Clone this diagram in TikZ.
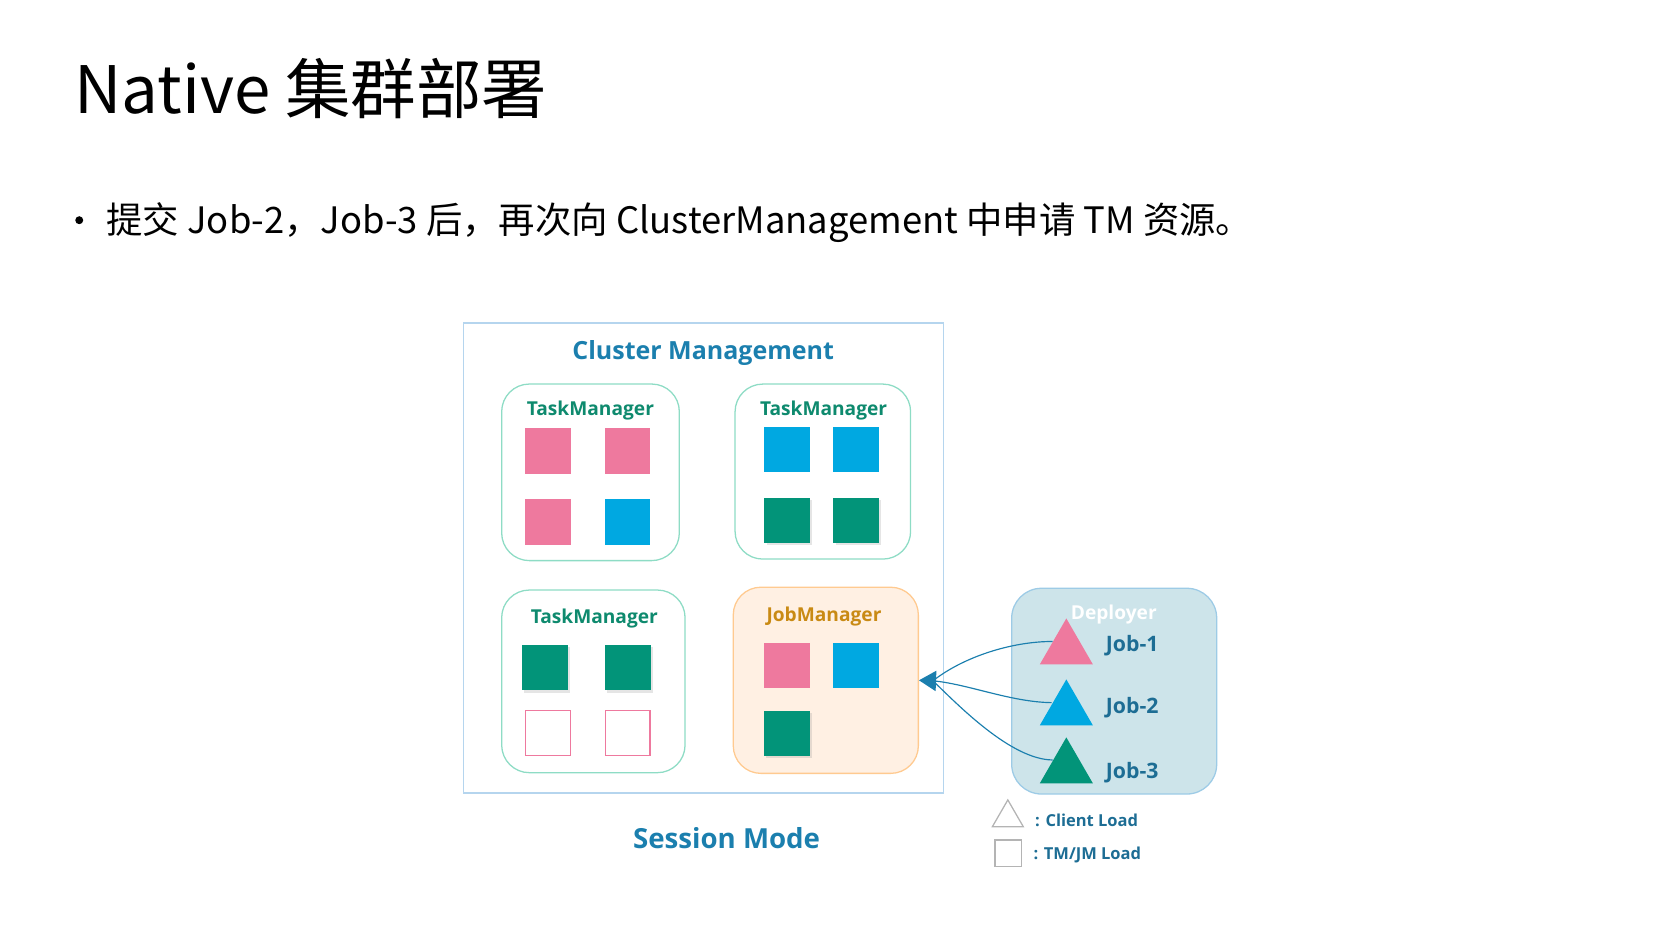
\documentclass[tikz,border=0pt]{standalone}
\usepackage{fontspec}
\setmainfont{Noto Sans CJK SC}
\newfontfamily\diagfont{Open Sans}
\usetikzlibrary{arrows.meta,shapes.geometric,shadows}

\definecolor{cmblue}{HTML}{1B7FAE}
\definecolor{outline}{HTML}{B5D5EE}
\definecolor{tmline}{HTML}{8EDCC5}
\definecolor{tmtext}{HTML}{0E8A6E}
\definecolor{jmfill}{HTML}{FFF0E3}
\definecolor{jmline}{HTML}{FFCA90}
\definecolor{jmtext}{HTML}{C98A14}
\definecolor{depfill}{HTML}{CDE4EA}
\definecolor{depline}{HTML}{9DCBE6}
\definecolor{jobtext}{HTML}{1D6D94}
\definecolor{slotpink}{HTML}{EE799E}
\definecolor{slotblue}{HTML}{00A8E1}
\definecolor{slotgreen}{HTML}{029479}
\definecolor{legend}{HTML}{B4B4B4}

\tikzset{
  mgrbox/.style={draw=tmline, line width=1.2pt, rounded corners=26pt, fill=white},
  slot/.style={minimum size=43pt, inner sep=0pt, outer sep=0pt},
  pinkslot/.style={slot, fill=slotpink},
  blueslot/.style={slot, fill=slotblue},
  greenslot/.style={slot, fill=slotgreen, drop shadow={shadow xshift=2pt, shadow yshift=-2pt, opacity=.2}},
  freeslot/.style={slot, draw=slotpink, line width=1pt, minimum size=42pt, fill=white},
  jobtri/.style={regular polygon, regular polygon sides=3, minimum size=57.7pt, inner sep=0pt},
  mgrlabel/.style={anchor=base, text=tmtext, font=\diagfont\bfseries\fontsize{18}{22}\selectfont},
  joblabel/.style={anchor=base west, text=jobtext, font=\diagfont\bfseries\fontsize{20}{24}\selectfont},
  legendlabel/.style={anchor=base west, text=jobtext, font=\diagfont\bfseries\fontsize{15.5}{19}\selectfont},
  submit/.style={draw=cmblue, line width=1.1pt}
}

\begin{document}
\begin{tikzpicture}[x=1pt, y=-1pt]
  \useasboundingbox (0,0) rectangle (1568,884);
  \node[anchor=base west, inner sep=0pt, font=\fontsize{61.5}{70}\selectfont] (title) at (70,106.5) {Native 集群部署};
  \node[circle, fill=black, inner sep=0pt, minimum size=7.5pt] (dot) at (74.5,207) {};
  \node[anchor=base west, inner sep=0pt, font=\fontsize{34.2}{40}\selectfont] (point) at (100,219.3) {提交 Job-2，Job-3 后，再次向 ClusterManagement 中申请 TM 资源。};

  % cluster frame
  \node[draw=outline, line width=1.2pt, minimum width=451pt, minimum height=442pt] (cluster) at (661.2,524.5) {};
  \node[anchor=base, text=cmblue, font=\diagfont\bfseries\fontsize{23.5}{30}\selectfont] (clustername) at (661,337.5) {Cluster Management};

  \node[mgrbox, minimum width=167pt, minimum height=166pt] (tm1) at (555.1,444) {};
  \node[mgrbox, minimum width=165pt, minimum height=164.5pt] (tm2) at (773.5,443.3) {};
  \node[mgrbox, minimum width=172.4pt, minimum height=171.7pt] (tm3) at (557.8,640.5) {};
  \node[mgrbox, draw=jmline, fill=jmfill, minimum width=174pt, minimum height=175pt] (jm) at (776.3,639.5) {};

  \node[mgrlabel] (tm1name) at (555,391) {TaskManager};
  \node[mgrlabel] (tm2name) at (774.2,391) {TaskManager};
  \node[mgrlabel] (tm3name) at (558.7,586) {TaskManager};
  \node[mgrlabel, text=jmtext] (jmname) at (774.6,584.4) {JobManager};

  % slots
  \node[pinkslot] (tm1a) at (515.2,423.8) {};
  \node[pinkslot] (tm1b) at (589.9,423.8) {};
  \node[pinkslot] (tm1c) at (515.2,490.4) {};
  \node[blueslot] (tm1d) at (589.9,490.4) {};
  \node[blueslot] (tm2a) at (740.1,422.6) {};
  \node[blueslot] (tm2b) at (805,422.6) {};
  \node[greenslot] (tm2c) at (740.1,489.2) {};
  \node[greenslot] (tm2d) at (805,489.2) {};
  \node[greenslot] (tm3a) at (512.5,627.5) {};
  \node[greenslot] (tm3b) at (590,627.5) {};
  \node[freeslot] (tm3c) at (515.2,689.2) {};
  \node[freeslot] (tm3d) at (590,689.2) {};
  \node[pinkslot] (jma) at (740,625.5) {};
  \node[blueslot] (jmb) at (805,625.5) {};
  \node[greenslot] (jmc) at (740,689.4) {};

  \node[anchor=base, text=cmblue, font=\diagfont\bfseries\fontsize{26}{32}\selectfont] (mode) at (683,797.5) {Session Mode};

  % deployer
  \node[draw=depline, fill=depfill, line width=1.2pt, rounded corners=28pt, minimum width=192.7pt, minimum height=193.4pt] (deployer) at (1047.4,649.7) {};
  \node[anchor=base, text=white, font=\diagfont\bfseries\fontsize{18}{22}\selectfont] (depname) at (1047,582) {Deployer};
  \coordinate (j1in) at (989.5,603);
  \coordinate (j2in) at (988.6,660.5);
  \coordinate (j3in) at (989.5,714.4);
  \coordinate (tip) at (877,640);
  \draw[submit] (j1in) .. controls (950,603) and (905,618) .. (tip);
  \draw[submit] (j2in) .. controls (950,660) and (910,643) .. (tip);
  \draw[submit] (j3in) .. controls (950,714) and (900,662) .. (tip);
  \draw[submit, -{Triangle[length=16pt, width=19pt]}] (tip) -- (jm.east);
  \node[jobtri, fill=slotpink] (job1) at (1002.4,610.2) {};
  \node[jobtri, fill=slotblue] (job2) at (1002.4,667.5) {};
  \node[jobtri, fill=slotgreen] (job3) at (1002.4,722) {};
  \node[joblabel] (job1name) at (1036,612.6) {Job-1};
  \node[joblabel] (job2name) at (1036,670.5) {Job-2};
  \node[joblabel] (job3name) at (1036,731.7) {Job-3};

  % legend
  \node[jobtri, draw=legend, line width=1.2pt, minimum size=33.5pt] (clientkey) at (947.4,768.7) {};
  \node[draw=legend, line width=1.2pt, minimum size=25pt, inner sep=0pt] (tmkey) at (947.8,802.2) {};
  \node[legendlabel] (clientname) at (969.5,776.5) {: Client Load};
  \node[legendlabel] (tmname) at (968,808.4) {: TM/JM Load};
\end{tikzpicture}
\end{document}
